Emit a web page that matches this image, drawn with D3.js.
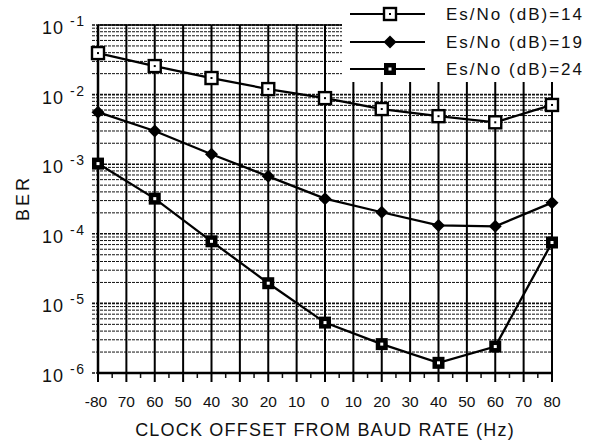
<!DOCTYPE html>
<html>
<head>
<meta charset="utf-8">
<script src="https://cdn.jsdelivr.net/npm/d3@7"></script>
<style>
body { margin: 0; background: #fff; }
text { font-family: "Liberation Sans", "DejaVu Sans", sans-serif; fill: #111; }
</style>
</head>
<body>
<svg id="chart" width="590" height="443"></svg>
<script>
// offsets in Hz
var offsets = [-80, -60, -40, -20, 0, 20, 40, 60, 80];
var ber14 = [0.0395, 0.0257, 0.0173, 0.0120, 0.0089, 0.0062, 0.0049, 0.0040, 0.0071];
var ber19 = [0.0056, 0.0030, 0.00139, 0.00067, 0.00032, 0.000204, 0.000132, 0.000128, 0.00028];
var ber24 = [0.00102, 0.00032, 0.000078, 0.0000195, 0.0000053, 0.0000026, 0.0000014, 0.0000024, 0.000075];
var seriesNames = ["Es/No (dB)=14", "Es/No (dB)=19", "Es/No (dB)=24"];
var xTickVals = [-80, -70, -60, -50, -40, -30, -20, -10, 0, 10, 20, 30, 40, 50, 60, 70, 80];
var xTickLabels = ["-80", "70", "60", "50", "40", "30", "20", "10", "0", "10", "20", "30", "40", "50", "60", "70", "80"];
var yDecades = [-6, -5, -4, -3, -2, -1];

var svg = d3.select("#chart");
var pLeft = 98, pRight = 552, pTop = 25, pBottom = 373;

var x = d3.scaleLinear().domain([-80, 80]).range([pLeft, pRight]);
var y = d3.scaleLog().domain([1e-6, 1e-1]).range([pBottom, pTop]);

// horizontal grid: 1..9 in every decade
var hLines = [];
for (var d = -6; d < -1; d++) {
    for (var m = 1; m <= 9; m++) {
        hLines.push(m * Math.pow(10, d));
    }
}
hLines.push(1e-1);

var grid = svg.append("g");
grid.selectAll("line.h").data(hLines).enter().append("line")
    .attr("x1", pLeft - 6).attr("x2", pRight)
    .attr("y1", function(d){ return y(d); })
    .attr("y2", function(d){ return y(d); })
    .attr("stroke", "#111")
    .attr("stroke-width", function(d){ return Math.abs(Math.log10(d) - Math.round(Math.log10(d))) < 1e-6 ? 1.6 : 1; })
    .attr("stroke-dasharray", "3,1");

grid.selectAll("line.v").data(xTickVals).enter().append("line")
    .attr("x1", function(d){ return x(d); })
    .attr("x2", function(d){ return x(d); })
    .attr("y1", pTop).attr("y2", pBottom + 9)
    .attr("stroke", "#000")
    .attr("stroke-width", 2);

// minor ticks at 5 Hz
var minor = d3.range(-75, 80, 10);
grid.selectAll("line.m").data(minor).enter().append("line")
    .attr("x1", function(d){ return x(d); })
    .attr("x2", function(d){ return x(d); })
    .attr("y1", pBottom).attr("y2", pBottom + 5)
    .attr("stroke", "#111").attr("stroke-width", 1.5);

// frame
svg.append("line").attr("x1", pLeft).attr("x2", pLeft).attr("y1", pTop).attr("y2", pBottom)
    .attr("stroke", "#000").attr("stroke-width", 2.5);
svg.append("line").attr("x1", pRight).attr("x2", pRight).attr("y1", pTop).attr("y2", pBottom)
    .attr("stroke", "#000").attr("stroke-width", 2);
svg.append("line").attr("x1", pLeft).attr("x2", pRight).attr("y1", pBottom).attr("y2", pBottom)
    .attr("stroke", "#000").attr("stroke-width", 2.5);
svg.append("line").attr("x1", pLeft).attr("x2", pRight).attr("y1", pTop).attr("y2", pTop)
    .attr("stroke", "#000").attr("stroke-width", 1.5);

// x tick labels
svg.selectAll("text.xt").data(xTickVals).enter().append("text")
    .attr("x", function(d){ return x(d) + (d == -80 ? -2 : 0); })
    .attr("y", 407)
    .attr("text-anchor", "middle")
    .attr("font-size", 15.5)
    .text(function(d,i){ return xTickLabels[i]; });

svg.append("text").attr("x", 325).attr("y", 436).attr("text-anchor", "middle")
    .attr("font-size", 18).attr("letter-spacing", 1.2)
    .text("CLOCK OFFSET FROM BAUD RATE (Hz)");

// y tick labels 10^n
var yl = svg.selectAll("g.yt").data(yDecades).enter().append("g")
    .attr("transform", function(d){ return "translate(0," + y(Math.pow(10, d)) + ")"; });
yl.append("text").attr("x", 42).attr("y", 9).attr("font-size", 18).attr("letter-spacing", 1).text("10");
yl.append("text").attr("x", 70).attr("y", 1).attr("font-size", 14).attr("letter-spacing", 1.5).text(function(d){ return "-" + (-d); });

svg.append("text").attr("transform", "translate(29,198) rotate(-90)")
    .attr("text-anchor", "middle").attr("font-size", 18).attr("letter-spacing", 3).text("BER");

// series
var allSeries = [ber14, ber19, ber24];
var line = d3.line()
    .x(function(d, i){ return x(offsets[i]); })
    .y(function(d){ return y(d); });

allSeries.forEach(function(s){
    svg.append("path").datum(s).attr("d", line)
        .attr("fill", "none").attr("stroke", "#000").attr("stroke-width", 2.3);
});

var drawMarker = function(g, k, cx, cy) {
    if (k == 0) {
        g.append("rect").attr("x", cx - 6).attr("y", cy - 6).attr("width", 12).attr("height", 12)
            .attr("fill", "#fff").attr("stroke", "#000").attr("stroke-width", 2.4);
        g.append("rect").attr("x", cx - 1).attr("y", cy - 1).attr("width", 2).attr("height", 2).attr("fill", "#000");
    } else if (k == 1) {
        g.append("path").attr("d", "M" + cx + "," + (cy - 6.5) + "L" + (cx + 6.5) + "," + cy + "L" + cx + "," + (cy + 6.5) + "L" + (cx - 6.5) + "," + cy + "Z")
            .attr("fill", "#000");
    } else {
        g.append("rect").attr("x", cx - 6).attr("y", cy - 6).attr("width", 12).attr("height", 12).attr("fill", "#000");
        g.append("rect").attr("x", cx - 1.5).attr("y", cy - 1.5).attr("width", 3).attr("height", 3).attr("fill", "#fff");
    }
};

var marks = svg.append("g");
allSeries.forEach(function(s, k){
    s.forEach(function(v, i){
        drawMarker(marks, k, x(offsets[i]), y(v));
    });
});

// legend
var lg = svg.append("g");
lg.append("rect").attr("x", 342).attr("y", 0).attr("width", 248).attr("height", 82).attr("fill", "#fff");
var legY = [14, 42, 69];
seriesNames.forEach(function(name, k){
    lg.append("line").attr("x1", 350).attr("x2", 425).attr("y1", legY[k]).attr("y2", legY[k])
        .attr("stroke", "#000").attr("stroke-width", 2);
    drawMarker(lg, k, 390, legY[k]);
    lg.append("text").attr("x", 446).attr("y", legY[k] + 6).attr("font-size", 17)
        .attr("letter-spacing", 2).text(name);
});
</script>
</body>
</html>
